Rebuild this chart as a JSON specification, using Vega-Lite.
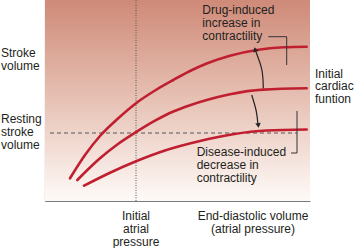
{
  "$schema": "https://vega.github.io/schema/vega-lite/v6.json",
  "width": 265,
  "height": 201,
  "autosize": {"type": "none"},
  "padding": {"left": 45, "top": 0, "right": 44, "bottom": 47},
  "background": "white",
  "config": {"view": {"stroke": null}, "font": "Liberation Sans"},
  "datasets": {
    "bg": [{"x0": 0, "x1": 265, "y0": 0, "y1": 201}],
    "curves": [
      {"s": "top", "x": 25, "y": 22.7},
      {"s": "top", "x": 40, "y": 46},
      {"s": "top", "x": 55, "y": 65},
      {"s": "top", "x": 73, "y": 82.5},
      {"s": "top", "x": 91.7, "y": 98.3},
      {"s": "top", "x": 110, "y": 110.5},
      {"s": "top", "x": 128.3, "y": 121},
      {"s": "top", "x": 145, "y": 130},
      {"s": "top", "x": 161.7, "y": 137.5},
      {"s": "top", "x": 185, "y": 145.3},
      {"s": "top", "x": 211.7, "y": 151},
      {"s": "top", "x": 238.3, "y": 153.7},
      {"s": "top", "x": 261.7, "y": 154.3},
      {"s": "mid", "x": 32.3, "y": 21},
      {"s": "mid", "x": 55, "y": 42.7},
      {"s": "mid", "x": 73, "y": 57},
      {"s": "mid", "x": 91.7, "y": 69.3},
      {"s": "mid", "x": 110, "y": 80.3},
      {"s": "mid", "x": 128.3, "y": 89.5},
      {"s": "mid", "x": 145, "y": 95.8},
      {"s": "mid", "x": 161.7, "y": 101},
      {"s": "mid", "x": 185, "y": 106.8},
      {"s": "mid", "x": 218.3, "y": 111.4},
      {"s": "mid", "x": 261.7, "y": 112.7},
      {"s": "bot", "x": 39, "y": 15.3},
      {"s": "bot", "x": 65, "y": 28.3},
      {"s": "bot", "x": 91.7, "y": 40},
      {"s": "bot", "x": 120, "y": 50.5},
      {"s": "bot", "x": 155, "y": 60},
      {"s": "bot", "x": 188, "y": 66.8},
      {"s": "bot", "x": 221.7, "y": 70.5},
      {"s": "bot", "x": 261.7, "y": 71.5}
    ],
    "brackets": [
      {"b": "drug", "o": 1, "x": 223.3, "y": 164.3},
      {"b": "drug", "o": 2, "x": 241.7, "y": 164.3},
      {"b": "drug", "o": 3, "x": 241.7, "y": 136},
      {"b": "dis", "o": 1, "x": 246, "y": 48},
      {"b": "dis", "o": 2, "x": 252, "y": 48},
      {"b": "dis", "o": 3, "x": 252, "y": 90}
    ],
    "arrows": [
      {"a": "up", "o": 1, "x": 218.3, "y": 112.7},
      {"a": "up", "o": 2, "x": 216.9, "y": 131},
      {"a": "up", "o": 3, "x": 211, "y": 149},
      {"a": "down", "o": 1, "x": 206.7, "y": 106},
      {"a": "down", "o": 2, "x": 211, "y": 91},
      {"a": "down", "o": 3, "x": 212.8, "y": 78}
    ],
    "heads": [
      {"x": 210.2, "y": 151.5, "ang": 343},
      {"x": 213.3, "y": 75.5, "ang": 172}
    ],
    "leftLabels": [
      {"t": "Stroke\nvolume", "x": -44, "y": 143.7},
      {"t": "Resting\nstroke\nvolume", "x": -44, "y": 77.7},
      {"t": "Initial\ncardiac\nfuntion", "x": 270, "y": 123.3},
      {"t": "Drug-induced\nincrease in\ncontractility", "x": 157.3, "y": 186.7},
      {"t": "Disease-induced\ndecrease in\ncontractility", "x": 151.7, "y": 45}
    ],
    "centerLabels": [
      {"t": "Initial\natrial\npressure", "x": 91, "y": -19},
      {"t": "End-diastolic volume\n(atrial pressure)", "x": 208, "y": -19}
    ]
  },
  "layer": [
    {
      "data": {"name": "bg"},
      "mark": {
        "type": "rect",
        "color": {
          "gradient": "linear",
          "x1": 0, "y1": 0, "x2": 0, "y2": 1,
          "stops": [
            {"offset": 0, "color": "#cf8a78"},
            {"offset": 0.5, "color": "#e7c2b5"},
            {"offset": 1, "color": "#fefaf8"}
          ]
        }
      },
      "encoding": {
        "x": {"field": "x0", "type": "quantitative", "scale": {"domain": [0, 265], "nice": false, "zero": false},
              "axis": {"domain": true, "domainColor": "#7a7a7a", "domainWidth": 1.2, "ticks": false, "labels": false, "grid": false, "title": null}},
        "x2": {"field": "x1"},
        "y": {"field": "y0", "type": "quantitative", "scale": {"domain": [0, 201], "nice": false, "zero": false},
              "axis": {"domain": true, "domainColor": "#7a7a7a", "domainWidth": 1.2, "ticks": false, "labels": false, "grid": false, "title": null}},
        "y2": {"field": "y1"}
      }
    },
    {
      "data": {"values": [{"x": 91}]},
      "mark": {"type": "rule", "color": "#555555", "strokeWidth": 1, "strokeDash": [1, 1.5]},
      "encoding": {"x": {"field": "x", "type": "quantitative"}}
    },
    {
      "data": {"values": [{"x": 5, "x2": 252, "y": 68}]},
      "mark": {"type": "rule", "color": "#555555", "strokeWidth": 1, "strokeDash": [4, 3]},
      "encoding": {
        "x": {"field": "x", "type": "quantitative"},
        "x2": {"field": "x2"},
        "y": {"field": "y", "type": "quantitative"}
      }
    },
    {
      "data": {"name": "curves"},
      "mark": {"type": "line", "color": "#c01f30", "strokeWidth": 2.6, "interpolate": "monotone", "strokeCap": "round"},
      "encoding": {
        "x": {"field": "x", "type": "quantitative"},
        "y": {"field": "y", "type": "quantitative"},
        "detail": {"field": "s"}
      }
    },
    {
      "data": {"name": "brackets"},
      "mark": {"type": "line", "color": "#333333", "strokeWidth": 1},
      "encoding": {
        "x": {"field": "x", "type": "quantitative"},
        "y": {"field": "y", "type": "quantitative"},
        "detail": {"field": "b"},
        "order": {"field": "o"}
      }
    },
    {
      "data": {"name": "arrows"},
      "mark": {"type": "line", "color": "#222222", "strokeWidth": 1.2, "interpolate": "cardinal"},
      "encoding": {
        "x": {"field": "x", "type": "quantitative"},
        "y": {"field": "y", "type": "quantitative"},
        "detail": {"field": "a"},
        "order": {"field": "o"}
      }
    },
    {
      "data": {"name": "heads"},
      "mark": {"type": "point", "shape": "triangle-up", "filled": true, "color": "#222222", "size": 30, "opacity": 1},
      "encoding": {
        "x": {"field": "x", "type": "quantitative"},
        "y": {"field": "y", "type": "quantitative"},
        "angle": {"field": "ang", "type": "quantitative", "scale": null}
      }
    },
    {
      "data": {"name": "leftLabels"},
      "mark": {"type": "text", "fontSize": 12, "color": "#231f20", "lineBreak": "\n", "lineHeight": 12.8, "baseline": "alphabetic", "align": "left"},
      "encoding": {
        "x": {"field": "x", "type": "quantitative"},
        "y": {"field": "y", "type": "quantitative"},
        "text": {"field": "t"}
      }
    },
    {
      "data": {"name": "centerLabels"},
      "mark": {"type": "text", "fontSize": 12, "color": "#231f20", "lineBreak": "\n", "lineHeight": 12.8, "baseline": "alphabetic", "align": "center"},
      "encoding": {
        "x": {"field": "x", "type": "quantitative"},
        "y": {"field": "y", "type": "quantitative"},
        "text": {"field": "t"}
      }
    }
  ]
}
